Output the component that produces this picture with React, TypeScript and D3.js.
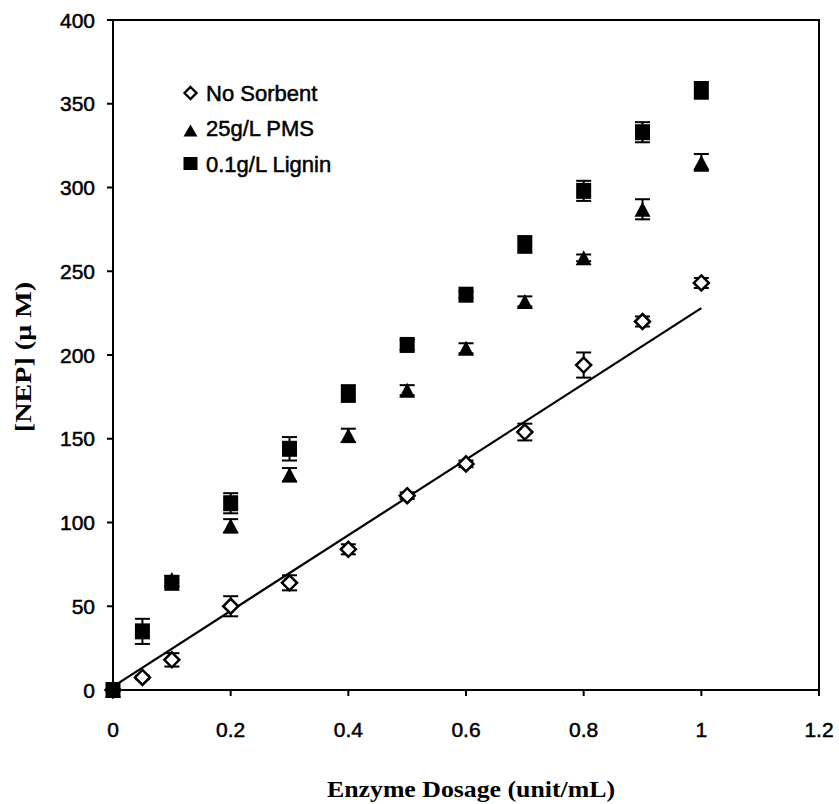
import React from "react";
import * as d3 from "d3";

// Enzyme dosage (unit/mL)
const dosageNoSorbent = [0, 0.05, 0.1, 0.2, 0.3, 0.4, 0.5, 0.6, 0.7, 0.8, 0.9, 1.0];
const nepNoSorbent = [0, 7.5, 18, 50, 64, 84, 116, 135, 154, 194, 220, 243];
const errNoSorbent = [0, 1, 4, 6, 4.5, 3, 2, 2, 5, 7.5, 3, 3];

const dosagePMS = [0, 0.1, 0.2, 0.3, 0.4, 0.5, 0.6, 0.7, 0.8, 0.9, 1.0];
const nepPMS = [0, 66, 98, 128.5, 152, 179, 204, 232, 258, 287, 315];
const errPMS = [0, 2, 4, 4, 4, 3, 3, 3, 2, 6, 5];

const dosageLignin = [0, 0.05, 0.1, 0.2, 0.3, 0.4, 0.5, 0.6, 0.7, 0.8, 0.9, 1.0];
const nepLignin = [0, 35, 64, 111.5, 144, 177, 206, 236, 266, 298, 333, 358];
const errLignin = [0, 7.5, 2, 6, 7, 5, 3, 2, 5, 6, 6, 5];

// Linear fit of the no-sorbent series
const fitSlope = 226;
const fitIntercept = 2;
const fitRange = [0, 1];

const xTicks = [0, 0.2, 0.4, 0.6, 0.8, 1, 1.2];
const yTicks = [0, 50, 100, 150, 200, 250, 300, 350, 400];

const legendLabels = ["No Sorbent", "25g/L PMS", "0.1g/L Lignin"];

const W = 839;
const H = 804;
const left = 113;
const right = 819;
const top = 20;
const bottom = 690;

const x = d3.scaleLinear().domain([0, 1.2]).range([left, right]);
const y = d3.scaleLinear().domain([0, 400]).range([bottom, top]);

const sansFont = "'Liberation Sans', Arial, sans-serif";
const serifFont = "'Liberation Serif', 'Times New Roman', serif";

function diamondPath(cx: number, cy: number, r: number) {
  return `M${cx},${cy - r}L${cx + r},${cy}L${cx},${cy + r}L${cx - r},${cy}Z`;
}
function trianglePath(cx: number, cy: number, w: number, h: number) {
  return `M${cx},${cy - h / 2}L${cx + w / 2},${cy + h / 2}L${cx - w / 2},${cy + h / 2}Z`;
}

function ErrorBars({ xs, ys, es }: { xs: number[]; ys: number[]; es: number[] }) {
  const cap = 7.5;
  return (
    <g stroke="#000" strokeWidth={2} fill="none">
      {xs.map((d, i) => {
        if (es[i] <= 0) return null;
        const cx = x(d);
        const y1 = y(ys[i] + es[i]);
        const y2 = y(ys[i] - es[i]);
        return (
          <g key={i}>
            <line x1={cx} x2={cx} y1={y1} y2={y2} />
            <line x1={cx - cap} x2={cx + cap} y1={y1} y2={y1} />
            <line x1={cx - cap} x2={cx + cap} y1={y2} y2={y2} />
          </g>
        );
      })}
    </g>
  );
}

export default function App() {
  const fitLine = d3
    .line<number>()
    .x((d) => x(d))
    .y((d) => y(fitSlope * d + fitIntercept));

  const sansStyle = { stroke: "#000", strokeWidth: 0.5 };

  return (
    <svg width={W} height={H} style={{ display: "block", position: "absolute", left: 0, top: 0 }}>
      <rect width={W} height={H} fill="#fff" />

      {/* frame */}
      <rect x={left} y={top} width={right - left} height={bottom - top} fill="none" stroke="#000" strokeWidth={2} />

      {/* y axis ticks and labels */}
      {yTicks.map((t) => (
        <g key={t}>
          <line x1={left - 6} x2={left} y1={y(t)} y2={y(t)} stroke="#000" strokeWidth={2} />
          <text x={95} y={y(t)} dy="0.36em" textAnchor="end" fontFamily={sansFont} fontSize={21} style={sansStyle}>
            {t}
          </text>
        </g>
      ))}

      {/* x axis ticks and labels */}
      {xTicks.map((t) => (
        <g key={t}>
          <line x1={x(t)} x2={x(t)} y1={bottom} y2={bottom + 6} stroke="#000" strokeWidth={2} />
          <text x={x(t)} y={737} textAnchor="middle" fontFamily={sansFont} fontSize={21} style={sansStyle}>
            {t}
          </text>
        </g>
      ))}

      {/* axis titles */}
      <text
        x={471}
        y={797}
        textAnchor="middle"
        fontFamily={serifFont}
        fontWeight="bold"
        fontSize={23}
        textLength={288}
        lengthAdjust="spacingAndGlyphs"
      >
        Enzyme Dosage (unit/mL)
      </text>
      <text
        transform="translate(31,357) rotate(-90)"
        textAnchor="middle"
        fontFamily={serifFont}
        fontWeight="bold"
        fontSize={23}
        textLength={150}
        lengthAdjust="spacingAndGlyphs"
      >
        [NEP] (μ M)
      </text>

      {/* fitted line */}
      <path d={fitLine(fitRange) || ""} fill="none" stroke="#000" strokeWidth={2.2} />

      {/* error bars */}
      <ErrorBars xs={dosageNoSorbent} ys={nepNoSorbent} es={errNoSorbent} />
      <ErrorBars xs={dosagePMS} ys={nepPMS} es={errPMS} />
      <ErrorBars xs={dosageLignin} ys={nepLignin} es={errLignin} />

      {/* no sorbent: open diamonds */}
      {dosageNoSorbent.map((d, i) => (
        <path key={`n${i}`} d={diamondPath(x(d), y(nepNoSorbent[i]), 7.5)} fill="#fff" stroke="#000" strokeWidth={2.5} />
      ))}
      {/* PMS: filled triangles */}
      {dosagePMS.map((d, i) => (
        <path key={`p${i}`} d={trianglePath(x(d), y(nepPMS[i]), 16, 15)} fill="#000" />
      ))}
      {/* lignin: filled squares */}
      {dosageLignin.map((d, i) => (
        <rect key={`l${i}`} x={x(d) - 7.5} y={y(nepLignin[i]) - 8} width={15} height={16} fill="#000" />
      ))}

      {/* legend */}
      <g>
        <path d={diamondPath(190.5, 93, 6)} fill="#fff" stroke="#000" strokeWidth={2.3} />
        <path d={trianglePath(190.5, 130.5, 14, 12)} fill="#000" />
        <rect x={183.5} y={157} width={14} height={13} fill="#000" />
        {legendLabels.map((l, i) => (
          <text key={l} x={206} y={101 + i * 35.3} fontFamily={sansFont} fontSize={22} style={sansStyle}>
            {l}
          </text>
        ))}
      </g>
    </svg>
  );
}
